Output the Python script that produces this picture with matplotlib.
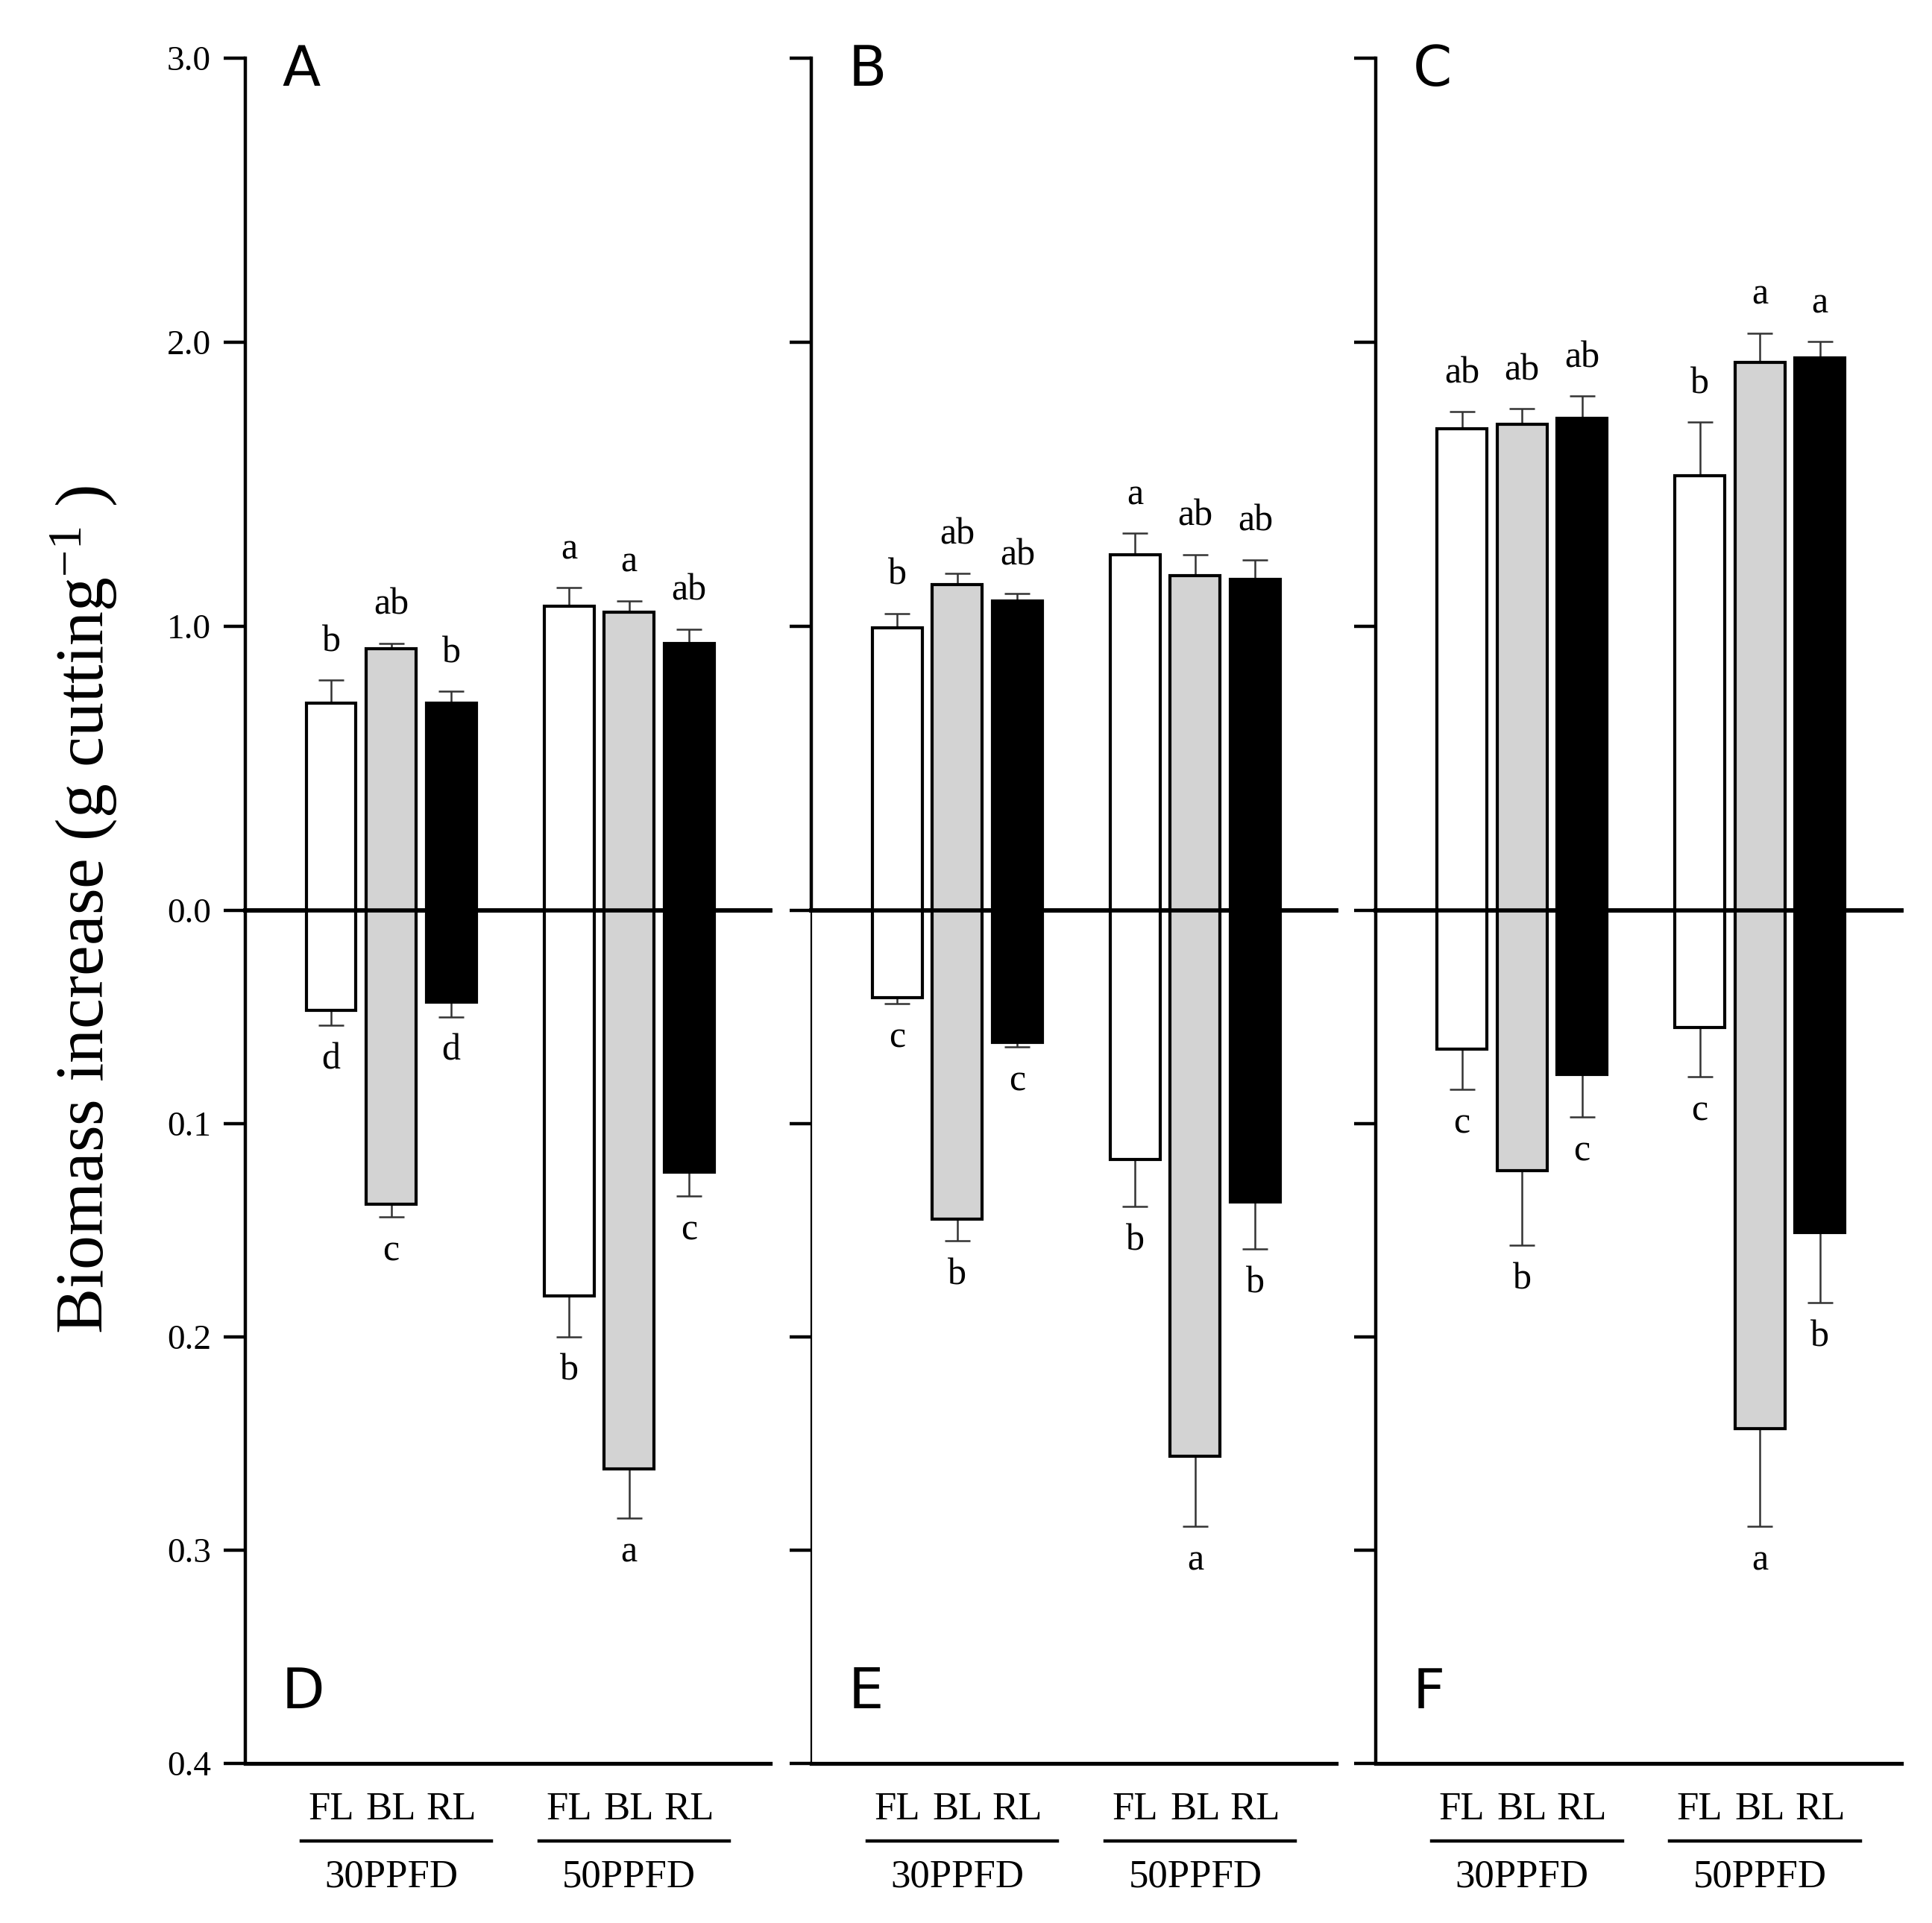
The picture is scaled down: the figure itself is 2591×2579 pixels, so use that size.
import matplotlib
matplotlib.use('Agg')
import matplotlib.pyplot as plt
import numpy as np

plt.rcParams['font.family'] = 'Liberation Serif'
plt.rcParams['mathtext.fontset'] = 'custom'
plt.rcParams['mathtext.rm'] = 'Liberation Serif'
plt.rcParams['mathtext.it'] = 'Liberation Serif:italic'

# data
lights = ['FL', 'BL', 'RL']
groups = ['30PPFD', '50PPFD']
colors = ['white', '#d3d3d3', 'black']

# upper panels A, B, C : order 30FL 30BL 30RL 50FL 50BL 50RL
A_up = [0.73, 0.92, 0.73, 1.07, 1.05, 0.94]
A_up_err = [0.08, 0.02, 0.04, 0.065, 0.04, 0.05]
B_up = [0.995, 1.147, 1.09, 1.252, 1.177, 1.164]
B_up_err = [0.05, 0.04, 0.025, 0.075, 0.075, 0.07]
C_up = [1.696, 1.71, 1.731, 1.531, 1.928, 1.945]
C_up_err = [0.06, 0.056, 0.08, 0.187, 0.104, 0.057]

# lower panels D, E, F (plotted downwards)
D_low = [0.047, 0.138, 0.043, 0.181, 0.262, 0.123]
D_low_err = [0.007, 0.006, 0.007, 0.019, 0.023, 0.011]
E_low = [0.041, 0.145, 0.062, 0.117, 0.256, 0.137]
E_low_err = [0.003, 0.010, 0.002, 0.022, 0.033, 0.022]
F_low = [0.065, 0.122, 0.077, 0.055, 0.243, 0.151]
F_low_err = [0.019, 0.035, 0.020, 0.023, 0.046, 0.033]

A_let = ['b', 'ab', 'b', 'a', 'a', 'ab']
B_let = ['b', 'ab', 'ab', 'a', 'ab', 'ab']
C_let = ['ab', 'ab', 'ab', 'b', 'a', 'a']
D_let = ['d', 'c', 'd', 'b', 'a', 'c']
E_let = ['c', 'b', 'c', 'b', 'a', 'b']
F_let = ['c', 'b', 'c', 'c', 'a', 'b']

up_ticks = [0, 1, 2, 3]
up_labels = ['0.0', '1.0', '2.0', '3.0']
low_ticks = [0.1, 0.2, 0.3, 0.4]
low_labels = ['0.1', '0.2', '0.3', '0.4']

panels = [
    ('A', 'D', A_up, A_up_err, A_let, D_low, D_low_err, D_let),
    ('B', 'E', B_up, B_up_err, B_let, E_low, E_low_err, E_let),
    ('C', 'F', C_up, C_up_err, C_let, F_low, F_low_err, F_let),
]

centers = [2.43, 6.39]
xpos = [c + o for c in centers for o in (-1, 0, 1)]
width = 0.83

fig = plt.figure(figsize=(12.955, 12.895), dpi=200)

lefts = [0.1269, 0.4199, 0.7122]
axw = 0.2718
up_bottom, up_h = 0.5267, 0.443
low_bottom, low_h = 0.0831, 0.4436

for i, (lu, ll, up, uperr, ulet, low, lowerr, llet) in enumerate(panels):
    axu = fig.add_axes([lefts[i], up_bottom, axw, up_h])
    axl = fig.add_axes([lefts[i], low_bottom, axw, low_h])

    for ax in (axu, axl):
        ax.set_xlim(0, 8.74)
        ax.spines['top'].set_visible(False)
        ax.spines['right'].set_visible(False)
        ax.spines['left'].set_linewidth(1.6)
        ax.set_xticks([])
        ax.tick_params(axis='y', direction='out', length=10.5, width=1.6,
                       pad=6, labelsize=17)
        ax.patch.set_alpha(0)

    axu.set_ylim(0, 3)
    axu.spines['bottom'].set_linewidth(2.0)
    axu.set_yticks(up_ticks)
    axl.set_ylim(0.4, 0)
    axl.spines['bottom'].set_visible(False)
    axl.spines['top'].set_visible(False)
    axl.set_yticks(low_ticks)
    # bottom line at 0.4 and zero line drawn over the bars
    axl.axhline(0.4, color='black', lw=1.9, clip_on=False)
    axl.axhline(0.0, color='black', lw=2.0, clip_on=False, zorder=6)
    if i == 1:
        axl.spines['left'].set_linewidth(0.8)

    if i == 0:
        axu.set_yticklabels(up_labels)
        axl.set_yticklabels(low_labels)
    else:
        axu.set_yticklabels([])
        axl.set_yticklabels([])

    # bars
    for j in range(6):
        k = j % 3
        axu.bar(xpos[j], up[j], width, color=colors[k], edgecolor='black',
                linewidth=1.5, zorder=3)
        axu.errorbar(xpos[j], up[j], yerr=[[0], [uperr[j]]], fmt='none',
                     ecolor='#333333', elinewidth=0.9, capsize=6, capthick=0.9,
                     zorder=2)
        axu.annotate(ulet[j], (xpos[j], up[j] + uperr[j]), xytext=(0, 14),
                     textcoords='offset points', ha='center', va='baseline',
                     fontsize=18)
        axl.bar(xpos[j], low[j], width, color=colors[k], edgecolor='black',
                linewidth=1.5, zorder=3)
        axl.errorbar(xpos[j], low[j], yerr=[[0], [lowerr[j]]], fmt='none',
                     ecolor='#333333', elinewidth=0.9, capsize=6, capthick=0.9,
                     zorder=2)
        axl.annotate(llet[j], (xpos[j], low[j] + lowerr[j]), xytext=(0, -21),
                     textcoords='offset points', ha='center', va='baseline',
                     fontsize=18)

    # panel letters
    axu.text(0.07, 1.018, lu, transform=axu.transAxes, ha='left', va='top',
             fontsize=27, family='DejaVu Sans')
    axl.text(0.07, 0.064, ll, transform=axl.transAxes, ha='left',
             va='baseline', fontsize=27, family='DejaVu Sans')

    # x labels under the lower axes
    trans = axl.get_xaxis_transform()
    for g, c in enumerate(centers):
        for o, lab in zip((-1, 0, 1), lights):
            axl.annotate(lab, (c + o, 0), xycoords=trans, xytext=(0, -27),
                         textcoords='offset points', ha='center',
                         va='baseline', fontsize=19)
        axl.annotate(groups[g], (c, 0), xycoords=trans, xytext=(0, -55),
                     textcoords='offset points', ha='center', va='center',
                     fontsize=19)
        axl.plot([c - 1.5, c + 1.67], [-0.0914, -0.0914], transform=trans,
                 color='black', lw=1.6, clip_on=False)

fig.text(0.0436, 0.527, r'Biomass increase (g cutting$^{\mathrm{-1}}$ )',
         rotation=90, ha='center', va='center', fontsize=33)

fig.savefig('out.png', dpi=200)
